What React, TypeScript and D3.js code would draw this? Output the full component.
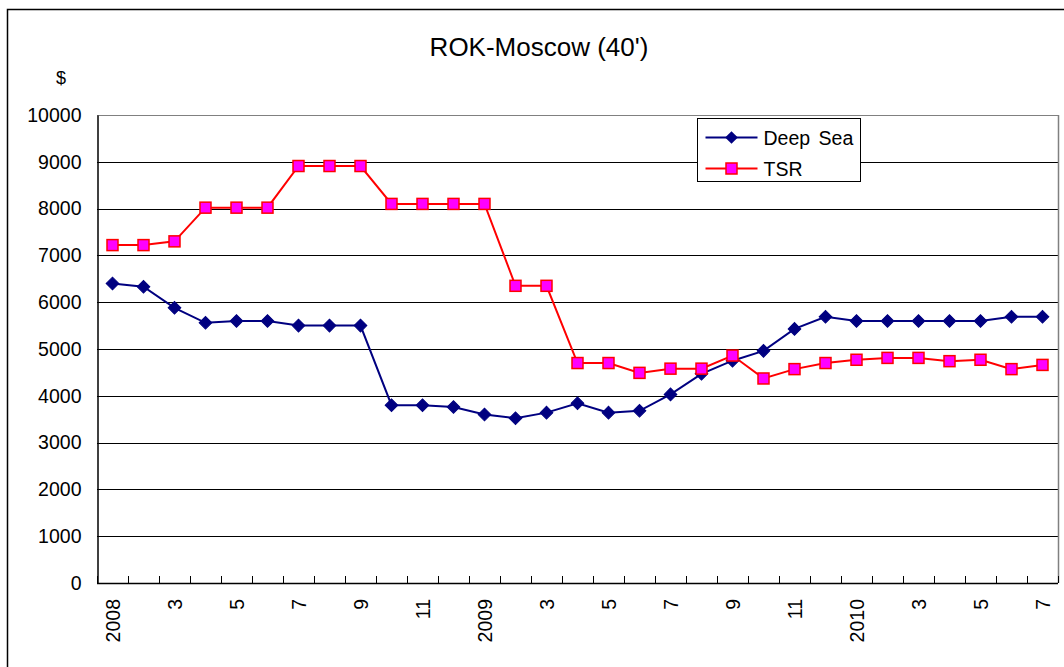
import { useRef, useEffect } from "react";
import * as d3 from "d3";

// month labels, 2008/1 .. 2010/7
const months: string[] = [
  "2008", "2", "3", "4", "5", "6", "7", "8", "9", "10", "11", "12",
  "2009", "2", "3", "4", "5", "6", "7", "8", "9", "10", "11", "12",
  "2010", "2", "3", "4", "5", "6", "7",
];

const deepSea: number[] = [
  6400, 6330, 5880, 5560, 5600, 5600, 5500, 5500, 5500, 3800, 3800, 3760,
  3600, 3520, 3640, 3840, 3640, 3680, 4030, 4470, 4750, 4960, 5430, 5690,
  5600, 5600, 5600, 5600, 5600, 5690, 5690,
];

const tsr: number[] = [
  7220, 7220, 7300, 8020, 8020, 8020, 8910, 8910, 8910, 8100, 8100, 8100,
  8100, 6350, 6350, 4700, 4700, 4490, 4580, 4580, 4860, 4370, 4570, 4700,
  4770, 4810, 4810, 4740, 4770, 4570, 4660,
];

const yTicks: number[] = [0, 1000, 2000, 3000, 4000, 5000, 6000, 7000, 8000, 9000, 10000];

const W = 1064;
const H = 667;
const FONT = "'Liberation Sans', Arial, sans-serif";

export default function App() {
  const svgRef = useRef<SVGSVGElement>(null);

  useEffect(() => {
    if (!svgRef.current) return;
    const svg = d3.select(svgRef.current);
    svg.selectAll("*").remove();

    const left = 97;
    const right = 1058;
    const top = 115;
    const bottom = 583;

    const idx = months.map((_, i) => String(i));
    const x = d3.scaleBand().domain(idx).range([left, right]);
    const y = d3.scaleLinear().domain([0, 10000]).range([bottom, top]);
    const cx = (i: number) => (x(String(i)) ?? 0) + x.bandwidth() / 2;

    // outer frame
    svg.append("path")
      .attr("d", `M7.5,${H} V9.5 H${W}`)
      .attr("fill", "none")
      .attr("stroke", "#000")
      .attr("stroke-width", 1.5);

    // title
    svg.append("text")
      .attr("x", 539)
      .attr("y", 56)
      .attr("text-anchor", "middle")
      .attr("font-family", FONT)
      .attr("font-size", 26)
      .text("ROK-Moscow (40')");

    svg.append("text")
      .attr("x", 61)
      .attr("y", 84)
      .attr("text-anchor", "middle")
      .attr("font-family", FONT)
      .attr("font-size", 18)
      .text("$");

    // grid lines
    svg.append("g")
      .selectAll("line")
      .data(yTicks.filter((d) => d > 0))
      .join("line")
      .attr("x1", left)
      .attr("x2", right)
      .attr("y1", (d) => Math.round(y(d)) + 0.5)
      .attr("y2", (d) => Math.round(y(d)) + 0.5)
      .attr("stroke", (d) => (d === 10000 ? "#808080" : "#000"))
      .attr("stroke-width", 1);

    // right border
    svg.append("line")
      .attr("x1", right + 0.5)
      .attr("x2", right + 0.5)
      .attr("y1", top)
      .attr("y2", bottom)
      .attr("stroke", "#808080")
      .attr("stroke-width", 1.5);

    // Y axis
    const yAxis = svg.append("g")
      .attr("transform", `translate(${left + 0.5},0)`)
      .call(d3.axisLeft(y).tickValues(yTicks).tickSize(0).tickPadding(16).tickFormat(d3.format("d")));
    yAxis.select(".domain").attr("stroke", "#000").attr("stroke-width", 1.5);
    yAxis.selectAll("text")
      .attr("font-family", FONT)
      .attr("font-size", 19.5)
      .attr("fill", "#000");

    // X axis: ticks on band boundaries, labels every other month
    const xg = svg.append("g");
    xg.append("line")
      .attr("x1", left)
      .attr("x2", right)
      .attr("y1", bottom + 0.5)
      .attr("y2", bottom + 0.5)
      .attr("stroke", "#000")
      .attr("stroke-width", 1.5);
    xg.selectAll(".tick")
      .data(d3.range(months.length + 1))
      .join("line")
      .attr("x1", (i) => Math.round(left + i * x.bandwidth()) + 0.5)
      .attr("x2", (i) => Math.round(left + i * x.bandwidth()) + 0.5)
      .attr("y1", bottom - 7)
      .attr("y2", bottom)
      .attr("stroke", "#000");
    xg.selectAll(".lbl")
      .data(months.map((m, i) => ({ m, i })).filter((d) => d.i % 2 === 0))
      .join("text")
      .attr("transform", (d) => `translate(${cx(d.i) + 7},${bottom + 16}) rotate(-90)`)
      .attr("text-anchor", "end")
      .attr("font-family", FONT)
      .attr("font-size", 19.5)
      .text((d) => d.m);

    // lines
    const line = d3.line<number>().x((_, i) => cx(i)).y((d) => y(d));

    svg.append("path")
      .datum(deepSea)
      .attr("d", line)
      .attr("fill", "none")
      .attr("stroke", "#000080")
      .attr("stroke-width", 2);

    svg.append("path")
      .datum(tsr)
      .attr("d", line)
      .attr("fill", "none")
      .attr("stroke", "#FF0000")
      .attr("stroke-width", 2);

    // markers
    svg.append("g")
      .selectAll("path")
      .data(deepSea)
      .join("path")
      .attr("d", d3.symbol(d3.symbolSquare, 80))
      .attr("transform", (d, i) => `translate(${cx(i)},${y(d)}) rotate(45)`)
      .attr("fill", "#000080")
      .attr("stroke", "#000080")
      .attr("stroke-width", 1);

    svg.append("g")
      .selectAll("rect")
      .data(tsr)
      .join("rect")
      .attr("x", (d, i) => cx(i) - 5.5)
      .attr("y", (d) => y(d) - 5.5)
      .attr("width", 11)
      .attr("height", 11)
      .attr("fill", "#FF00FF")
      .attr("stroke", "#FF0000")
      .attr("stroke-width", 1.5);

    // legend
    const lg = svg.append("g").attr("transform", "translate(697.5,118.5)");
    lg.append("rect")
      .attr("width", 163)
      .attr("height", 63)
      .attr("fill", "#fff")
      .attr("stroke", "#000")
      .attr("stroke-width", 1);
    const entries = [
      { name: "Deep Sea", color: "#000080", ly: 19 },
      { name: "TSR", color: "#FF0000", ly: 50 },
    ];
    entries.forEach((e, k) => {
      lg.append("line")
        .attr("x1", 8)
        .attr("x2", 60)
        .attr("y1", e.ly)
        .attr("y2", e.ly)
        .attr("stroke", e.color)
        .attr("stroke-width", 2);
      if (k === 0) {
        lg.append("path")
          .attr("d", d3.symbol(d3.symbolSquare, 80))
          .attr("transform", `translate(34,${e.ly}) rotate(45)`)
          .attr("fill", "#000080");
      } else {
        lg.append("rect")
          .attr("x", 28.5)
          .attr("y", e.ly - 5.5)
          .attr("width", 11)
          .attr("height", 11)
          .attr("fill", "#FF00FF")
          .attr("stroke", "#FF0000")
          .attr("stroke-width", 1.5);
      }
      lg.append("text")
        .attr("x", 66)
        .attr("y", e.ly + 7)
        .attr("font-family", FONT)
        .attr("font-size", 19.5)
        .attr("word-spacing", 3)
        .text(e.name);
    });
  }, []);

  return (
    <svg
      ref={svgRef}
      width={W}
      height={H}
      style={{ position: "absolute", left: 0, top: 0, background: "#fff" }}
    />
  );
}
